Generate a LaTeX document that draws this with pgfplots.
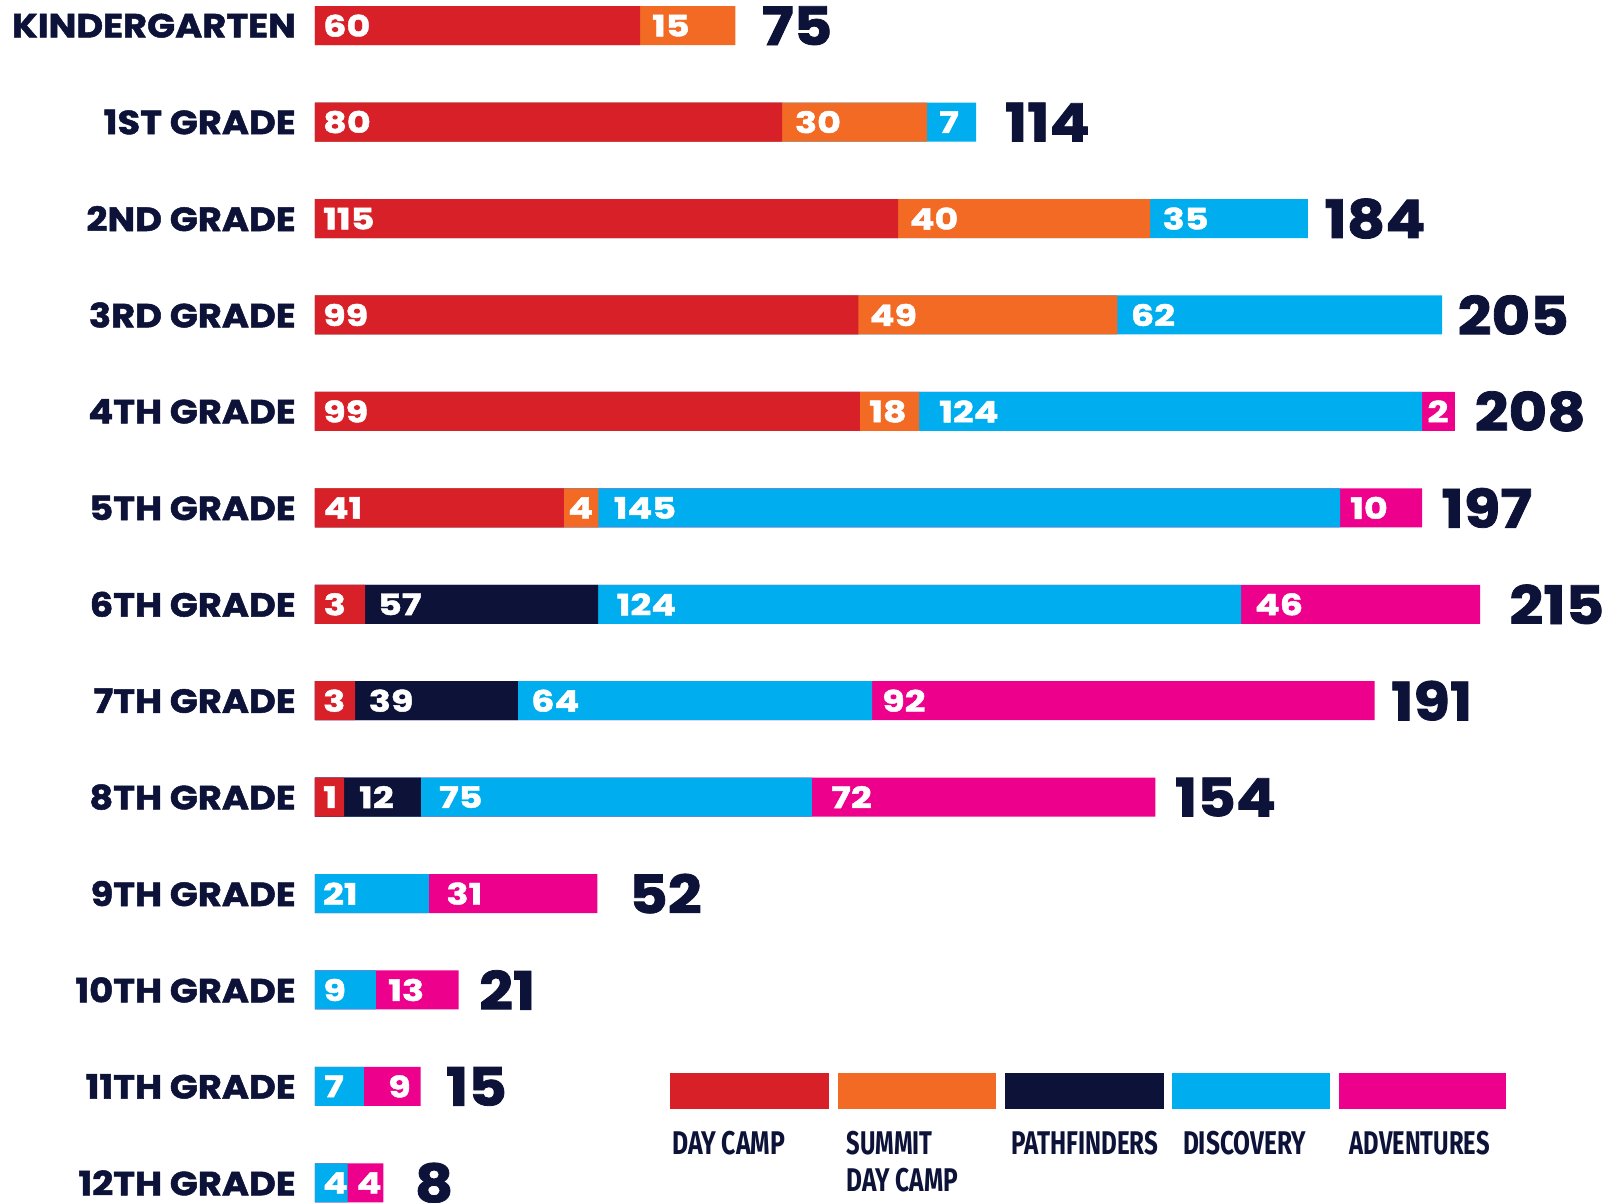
\documentclass[border=0pt]{standalone}
\usepackage{pgfplots}
\usepackage{pgfplotstable}
\pgfplotsset{compat=1.18}
\usepackage{graphicx}
\usepackage{fontspec}
\setmainfont{Poppins}
\newfontfamily\catfont{Poppins}[BoldFeatures={FakeBold=1.5,FakeStretch=1.1}]
\newfontfamily\segfont{Poppins}[BoldFeatures={FakeBold=1.5,FakeStretch=1.24}]
\newfontfamily\totfont{Poppins}[BoldFeatures={FakeBold=1.5,FakeStretch=1.12}]
\newfontfamily\condfont{Fira Sans}

\definecolor{dcred}{HTML}{D72027}
\definecolor{sdorange}{HTML}{F26A23}
\definecolor{pfnavy}{HTML}{0C1238}
\definecolor{dscyan}{HTML}{00AEEF}
\definecolor{admag}{HTML}{EC008C}

% bar ends, measured from bar start (drawn lengths)
\pgfplotstableread{
y w
-25.7 325.1
-122.1 467.0
-218.6 583.2
-315.0 543.3
-411.4 544.8
-507.9 248.9
-604.3 50.2
-700.7 40.1
-797.1 29.2
}\tabDay
\pgfplotstableread{
y w
-25.7 420.4
-122.1 611.9
-218.6 835.2
-315.0 802.4
-411.4 604.1
-507.9 283.4
}\tabSum
\pgfplotstableread{
y w
-604.3 283.0
-700.7 203.0
-797.1 105.8
}\tabPath
\pgfplotstableread{
y w
-122.1 661.0
-218.6 992.9
-315.0 1127.1
-411.4 1107.2
-507.9 1025.2
-604.3 926.2
-700.7 557.0
-797.1 496.8
-893.6 113.8
-990.0 61.0
-1086.4 49.0
-1182.9 32.6
}\tabDisc
\pgfplotstableread{
y w
-411.4 1139.9
-507.9 1107.2
-604.3 1165.0
-700.7 1059.5
-797.1 840.3
-893.6 282.3
-990.0 143.7
-1086.4 105.6
-1182.9 68.4
}\tabAdv
\pgfplotstableread{
x y t
8 -25.7 60
336.9 -25.7 15
8 -122.1 80
479.8 -122.1 30
624 -122.1 7
8 -218.6 115
594.5 -218.6 40
847.5 -218.6 35
8 -315.0 99
554.5 -315.0 49
815.7 -315.0 62
8 -411.4 99
554 -411.4 18
624 -411.4 124
1112.3 -411.4 2
8.6 -507.9 41
253 -507.9 4
298.6 -507.9 145
1035 -507.9 10
8.6 -604.3 3
62.9 -604.3 57
301.5 -604.3 124
939.8 -604.3 46
8 -700.7 3
53.6 -700.7 39
216 -700.7 64
567 -700.7 92
8 -797.1 1
43.9 -797.1 12
123.9 -797.1 75
516.1 -797.1 72
7.8 -893.6 21
131.3 -893.6 31
8.2 -990.0 9
73 -990.0 13
9 -1086.4 7
73 -1086.4 9
7.8 -1182.9 4
41.7 -1182.9 4
}\tabSeg
\pgfplotstableread{
x y t
446.7 -25.7 75
689.7 -122.1 114
1009.3 -218.6 184
1142.4 -315.0 205
1159.4 -411.4 208
1126.3 -507.9 197
1194.2 -604.3 215
1075.9 -700.7 191
859.8 -797.1 154
314 -893.6 52
163.9 -990.0 21
130.8 -1086.4 15
99.6 -1182.9 8
}\tabTot

\begin{document}
\begin{tikzpicture}
\begin{axis}[
  x=1pt, y=1pt,
  xmin=-19, xmax=1291, ymin=-1202, ymax=0,
  enlargelimits=false, clip=false,
  axis line style={draw=none},
  xtick=\empty,
  ytick={-25.7,-122.1,-218.6,-315.0,-411.4,-507.9,-604.3,-700.7,-797.1,-893.6,-990.0,-1086.4,-1182.9},
  yticklabels={KINDERGARTEN,1ST GRADE,2ND GRADE,3RD GRADE,4TH GRADE,5TH GRADE,6TH GRADE,7TH GRADE,8TH GRADE,9TH GRADE,10TH GRADE,11TH GRADE,12TH GRADE},
  major tick length=0pt,
  tick style={draw=none},
  yticklabel style={anchor=east, inner sep=0pt, text=pfnavy, font=\catfont\bfseries\fontsize{33.5}{34}\selectfont},
]
\addplot[xbar, bar shift=0pt, bar width=39pt, fill=admag, draw=none] table[x=w,y=y]{\tabAdv};
\addplot[xbar, bar shift=0pt, bar width=39pt, fill=dscyan, draw=none] table[x=w,y=y]{\tabDisc};
\addplot[xbar, bar shift=0pt, bar width=39pt, fill=pfnavy, draw=none] table[x=w,y=y]{\tabPath};
\addplot[xbar, bar shift=0pt, bar width=39pt, fill=sdorange, draw=none] table[x=w,y=y]{\tabSum};
\addplot[xbar, bar shift=0pt, bar width=39pt, fill=dcred, draw=none] table[x=w,y=y]{\tabDay};
\addplot[draw=none, mark=none, point meta=explicit symbolic,
  nodes near coords={\pgfplotspointmeta}, nodes near coords align=horizontal,
  every node near coord/.append style={anchor=west, inner sep=0pt, text=white, font=\segfont\bfseries\fontsize{29.5}{30}\selectfont}]
  table[x=x,y=y,meta=t]{\tabSeg};
\addplot[draw=none, mark=none, point meta=explicit symbolic,
  nodes near coords={\pgfplotspointmeta}, nodes near coords align=horizontal,
  every node near coord/.append style={anchor=west, inner sep=0pt, text=pfnavy, font=\totfont\bfseries\fontsize{53}{54}\selectfont}]
  table[x=x,y=y,meta=t]{\tabTot};
\coordinate (tl) at (axis cs:-315,0);
\end{axis}
\begin{scope}[shift={(tl)}, x=1pt, y=-1pt]
\fill[dcred] (669.9,1072.7) rectangle (829,1108.7);
\fill[sdorange] (838.3,1072.7) rectangle (996.3,1108.7);
\fill[pfnavy] (1004.5,1072.7) rectangle (1163.6,1108.7);
\fill[dscyan] (1172.3,1072.7) rectangle (1330.3,1108.7);
\fill[admag] (1339.1,1072.7) rectangle (1505.9,1108.7);
\tikzset{lg/.style={anchor=base west, inner sep=0pt, text=pfnavy}}
\node[lg] at (672,1155) {\resizebox{113pt}{23.3pt}{\condfont\bfseries DAY CAMP}};
\node[lg] at (846.5,1155) {\resizebox{86pt}{23.3pt}{\condfont\bfseries SUMMIT}};
\node[lg] at (846.5,1191.7) {\resizebox{111.4pt}{23.3pt}{\condfont\bfseries DAY CAMP}};
\node[lg] at (1011,1155) {\resizebox{147pt}{23.3pt}{\condfont\bfseries PATHFINDERS}};
\node[lg] at (1182.8,1155) {\resizebox{123pt}{23.3pt}{\condfont\bfseries DISCOVERY}};
\node[lg] at (1349.5,1155) {\resizebox{140pt}{23.3pt}{\condfont\bfseries ADVENTURES}};
\end{scope}
\pgfresetboundingbox
\path (tl) rectangle ++(1606pt,-1202pt);
\end{tikzpicture}
\end{document}
